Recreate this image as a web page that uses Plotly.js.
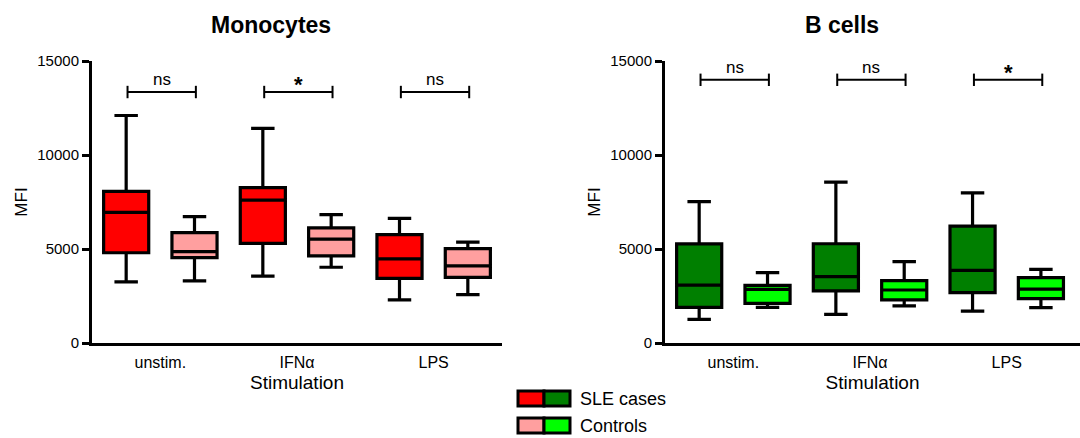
<!DOCTYPE html>
<html>
<head>
<meta charset="utf-8">
<script src="https://cdn.plot.ly/plotly-3.0.1.min.js"></script>
<style>html,body{margin:0;padding:0;background:#fff}#chart{width:1080px;height:438px}</style>
</head>
<body>
<div id="chart"></div>
<script>
// ---- data ----
const categories = ["unstim.", "IFNα", "LPS"];

// Monocytes
const monoSLE_low    = [3250, 3560, 2290];
const monoSLE_q1     = [4800, 5300, 3440];
const monoSLE_med    = [6950, 7600, 4470];
const monoSLE_q3     = [8060, 8260, 5760];
const monoSLE_high   = [12100, 11420, 6630];

const monoCtl_low    = [3300, 4030, 2570];
const monoCtl_q1     = [4540, 4630, 3490];
const monoCtl_med    = [4860, 5530, 4100];
const monoCtl_q3     = [5870, 6120, 5020];
const monoCtl_high   = [6720, 6830, 5370];

// B cells
const bSLE_low  = [1260, 1520, 1700];
const bSLE_q1   = [1900, 2770, 2680];
const bSLE_med  = [3080, 3530, 3860];
const bSLE_q3   = [5270, 5280, 6220];
const bSLE_high = [7520, 8560, 7990];

const bCtl_low  = [1900, 1970, 1880];
const bCtl_q1   = [2110, 2290, 2360];
const bCtl_med  = [2850, 2820, 2870];
const bCtl_q3   = [3070, 3320, 3480];
const bCtl_high = [3740, 4330, 3920];

const monoSig = ["ns", "*", "ns"];
const bSig    = ["ns", "ns", "*"];
const monoSigY = 13350;
const bSigY    = 14000;

const seriesNames = ["SLE cases", "Controls"];
// ---------------

const FONT = "Arial, 'Liberation Sans', sans-serif";
const colors = {monoSLE:"#FF0000", monoCtl:"#FF9F9F", bSLE:"#007F00", bCtl:"#00FF00"};

function boxTrace(name, low, q1, med, q3, high, fill, xa, ya, og, ag){
  return {
    type:"box", name:name, x:categories, lowerfence:low, q1:q1, median:med, q3:q3, upperfence:high,
    fillcolor:fill, line:{color:"#000", width:3.2}, whiskerwidth:0.52,
    offsetgroup:og, alignmentgroup:ag,
    xaxis:xa, yaxis:ya, showlegend:false, hoverinfo:"skip", boxpoints:false
  };
}

const data = [
  boxTrace(seriesNames[0], monoSLE_low, monoSLE_q1, monoSLE_med, monoSLE_q3, monoSLE_high, colors.monoSLE, "x", "y", "s", "m"),
  boxTrace(seriesNames[1], monoCtl_low, monoCtl_q1, monoCtl_med, monoCtl_q3, monoCtl_high, colors.monoCtl, "x", "y", "c", "m"),
  boxTrace(seriesNames[0], bSLE_low, bSLE_q1, bSLE_med, bSLE_q3, bSLE_high, colors.bSLE, "x2", "y2", "s", "b"),
  boxTrace(seriesNames[1], bCtl_low, bCtl_q1, bCtl_med, bCtl_q3, bCtl_high, colors.bCtl, "x2", "y2", "c", "b")
];

const shapes = [];
const annotations = [];

function addSig(labels, yv, xref, yref){
  labels.forEach((lab, i) => {
    const x0 = i - 0.24, x1 = i + 0.26;
    shapes.push({type:"line", xref:xref, yref:yref, x0:x0, x1:x1, y0:yv, y1:yv, line:{color:"#000", width:2}});
    shapes.push({type:"line", xref:xref, yref:yref, x0:x0, x1:x0, y0:yv-330, y1:yv+330, line:{color:"#000", width:2}});
    shapes.push({type:"line", xref:xref, yref:yref, x0:x1, x1:x1, y0:yv-330, y1:yv+330, line:{color:"#000", width:2}});
    const star = lab === "*";
    annotations.push({xref:xref, yref:yref, x:i+0.01, y:yv, text: star ? "<b>*</b>" : lab, showarrow:false,
      yanchor:"bottom", yshift: star ? -7 : 1, font:{family:FONT, size: star ? 22 : 17, color:"#000"}});
  });
}
addSig(monoSig, monoSigY, "x", "y");
addSig(bSig, bSigY, "x2", "y2");

// titles
annotations.push({xref:"paper", yref:"paper", x:271/1080, y:1-25/438, text:"<b>Monocytes</b>", showarrow:false,
  font:{family:FONT, size:23, color:"#000"}, xanchor:"center", yanchor:"middle"});
annotations.push({xref:"paper", yref:"paper", x:842/1080, y:1-25/438, text:"<b>B cells</b>", showarrow:false,
  font:{family:FONT, size:23, color:"#000"}, xanchor:"center", yanchor:"middle"});

// legend (drawn)
const legendColors = [[colors.monoSLE, colors.bSLE], [colors.monoCtl, colors.bCtl]];
const legTop = [391, 418];
seriesNames.forEach((nm, r) => {
  const y0 = 1 - (legTop[r] + 15)/438, y1 = 1 - legTop[r]/438;
  shapes.push({type:"rect", xref:"paper", yref:"paper", x0:518/1080, x1:544/1080, y0:y0, y1:y1, fillcolor:legendColors[r][0], line:{color:"#000", width:3}});
  shapes.push({type:"rect", xref:"paper", yref:"paper", x0:544/1080, x1:570/1080, y0:y0, y1:y1, fillcolor:legendColors[r][1], line:{color:"#000", width:3}});
  annotations.push({xref:"paper", yref:"paper", x:578/1080, y:(y0+y1)/2, text:nm, showarrow:false, xanchor:"left", yanchor:"middle",
    font:{family:FONT, size:18, color:"#000"}});
});

const yDomain = [1 - 343/438, 1 - 61/438];
function yAxis(anchor){
  return {domain:yDomain, anchor:anchor, range:[0, 15000], tickvals:[0,5000,10000,15000], ticktext:["0","5000","10000","15000"],
    showline:true, linecolor:"#000", linewidth:3, ticks:"outside", ticklen:7, tickwidth:3, tickcolor:"#000",
    showgrid:false, zeroline:false, tickfont:{family:FONT, size:15, color:"#000"},
    title:{text:"MFI", font:{family:FONT, size:17, color:"#000"}, standoff:6}, fixedrange:true};
}
function xAxis(anchor, dom, range){
  return {domain:dom, anchor:anchor, type:"category", range:range, showline:true, linecolor:"#000", linewidth:3,
    ticks:"outside", ticklen:3, tickcolor:"rgba(0,0,0,0)", showgrid:false, zeroline:false, tickfont:{family:FONT, size:16, color:"#000"},
    title:{text:"Stimulation", font:{family:FONT, size:19, color:"#000"}, standoff:6}, fixedrange:true};
}

const layout = {
  width:1080, height:438, margin:{l:0, r:0, t:0, b:0}, paper_bgcolor:"#fff", plot_bgcolor:"#fff",
  boxmode:"group", boxgap:0, boxgroupgap:0.34, showlegend:false,
  xaxis: xAxis("y", [92/1080, 502/1080], [-0.5, 2.5]),
  yaxis: yAxis("x"),
  xaxis2: xAxis("y2", [665/1080, 1], [-0.5, 2.536]),
  yaxis2: yAxis("x2"),
  shapes:shapes, annotations:annotations
};

Plotly.newPlot("chart", data, layout, {displayModeBar:false, staticPlot:true});
</script>
</body>
</html>
